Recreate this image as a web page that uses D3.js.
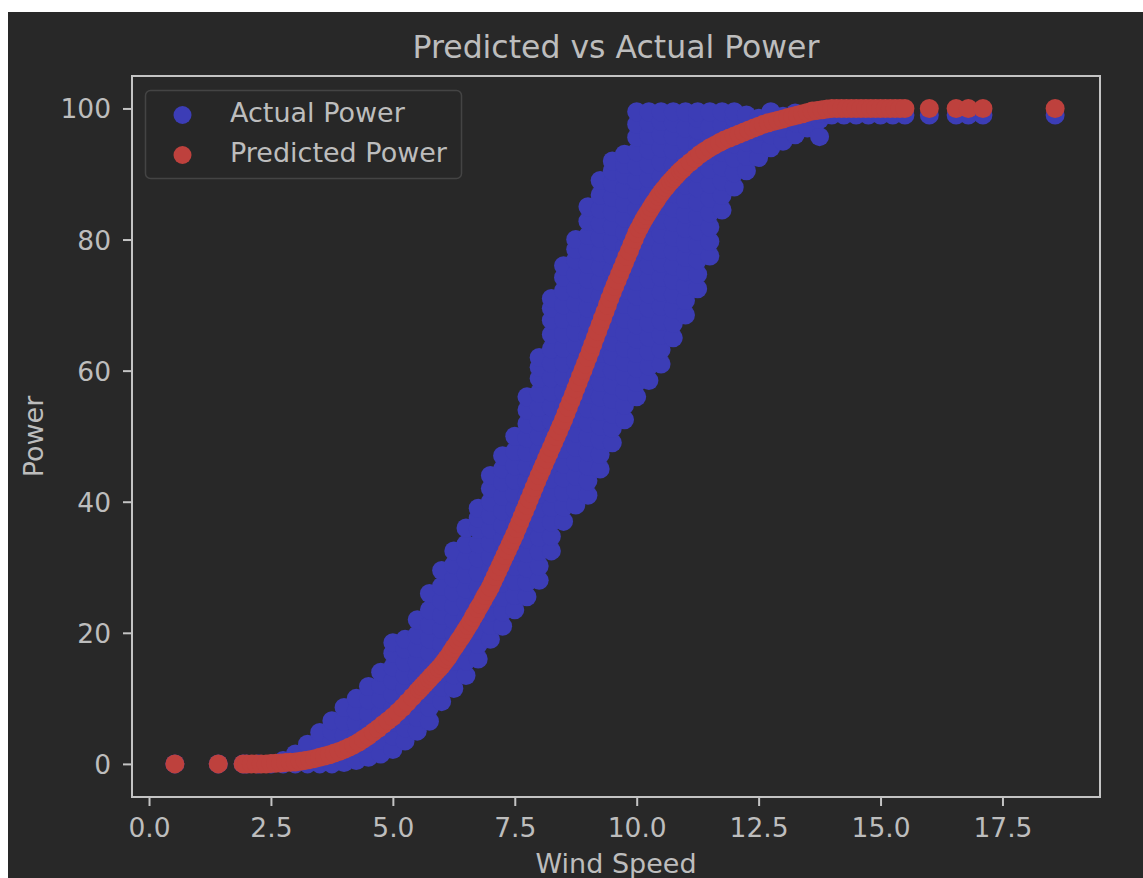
<!DOCTYPE html>
<html>
<head>
<meta charset="utf-8">
<script src="https://cdn.jsdelivr.net/npm/d3@7"></script>
<style>
  html, body { margin: 0; padding: 0; background: #ffffff; }
  svg { display: block; }
  text { font-family: "DejaVu Sans", sans-serif; }
</style>
</head>
<body>
<svg id="chart" width="1143" height="878"></svg>
<script>
// ---------------- data ----------------
const title = "Predicted vs Actual Power";
const xLabel = "Wind Speed";
const yLabel = "Power";
const seriesNames = ["Actual Power", "Predicted Power"];
const xTicks = [0, 2.5, 5, 7.5, 10, 12.5, 15, 17.5];
const yTicks = [0, 20, 40, 60, 80, 100];

// Actual power: for each wind speed, the observed power values
const actualColumns = [
  [0.53, [0]], [1.42, [0]], [1.93, [0]],
  [2.0, [0]], [2.25, [0]], [2.5, [0]], [2.75, [0, 0.5]],
  [3.0, [0, 0.8, 1.5]],
  [3.25, [0, 1.5, 3]],
  [3.5, [0, 1.6, 3.2, 4.8]],
  [3.75, [0, 1.7, 3.4, 5, 6.6]],
  [4.0, [0.2, 2.3, 4.4, 6.5, 8.6]],
  [4.25, [0.5, 2.4, 4.3, 6.2, 8.1, 10]],
  [4.5, [1, 3.2, 5.4, 7.6, 9.8, 11.8]],
  [4.75, [1.5, 3.6, 5.7, 7.8, 9.9, 12, 14]],
  [5.0, [2.2, 4.3, 6.4, 8.5, 10.6, 12.7, 14.8, 16.9, 18.5]],
  [5.25, [3.5, 5.5, 7.5, 9.5, 11.5, 13.5, 15.5, 17.5, 19]],
  [5.5, [5, 7.1, 9.2, 11.3, 13.4, 15.5, 17.6, 19.7, 22]],
  [5.75, [6.5, 8.6, 10.7, 12.8, 14.9, 17, 19.1, 21.2, 23.5, 26]],
  [6.0, [9.5, 11.7, 13.9, 16.1, 18.3, 20.5, 22.7, 24.9, 27.1, 29.5]],
  [6.25, [11.5, 13.6, 15.7, 17.8, 19.9, 22, 24.1, 26.2, 28.3, 30.4, 32.5]],
  [6.5, [13.5, 15.7, 17.9, 20.1, 22.3, 24.5, 26.7, 28.9, 31.1, 33.5, 36]],
  [6.75, [16, 18.2, 20.4, 22.6, 24.8, 27, 29.2, 31.4, 33.6, 35.8, 37.5, 39]],
  [7.0, [19, 21.1, 23.2, 25.3, 27.4, 29.5, 31.6, 33.7, 35.8, 37.9, 40, 42, 44]],
  [7.25, [21, 23.2, 25.4, 27.6, 29.8, 32, 34.2, 36.4, 38.6, 40.8, 43, 45, 47]],
  [7.5, [23.5, 25.7, 27.9, 30.1, 32.3, 34.5, 36.7, 38.9, 41.1, 43.3, 45.5, 47.7, 50]],
  [7.75, [25.5, 27.7, 29.9, 32.1, 34.3, 36.5, 38.7, 40.9, 43.1, 45.3, 47.5, 49.7, 51.9, 54, 56]],
  [8.0, [28, 30.2, 32.4, 34.6, 36.8, 39, 41.2, 43.4, 45.6, 47.8, 50, 52.2, 54.4, 56.6, 58.8, 60.5, 62]],
  [8.25, [32.5, 34.7, 36.9, 39.1, 41.3, 43.5, 45.7, 47.9, 50.1, 52.3, 54.5, 56.7, 58.9, 61.1, 63.3, 65.5, 67.7, 69.5, 71]],
  [8.5, [37, 39.2, 41.4, 43.6, 45.8, 48, 50.2, 52.4, 54.6, 56.8, 59, 61.2, 63.4, 65.6, 67.8, 70, 72.2, 74.2, 76]],
  [8.75, [39.5, 41.7, 43.9, 46.1, 48.3, 50.5, 52.7, 54.9, 57.1, 59.3, 61.5, 63.7, 65.9, 68.1, 70.3, 72.5, 74.7, 76.9, 78.5, 80]],
  [9.0, [41, 43.2, 45.4, 47.6, 49.8, 52, 54.2, 56.4, 58.6, 60.8, 63, 65.2, 67.4, 69.6, 71.8, 74, 76.2, 78.4, 80.6, 82.8, 85]],
  [9.25, [45, 47.2, 49.4, 51.6, 53.8, 56, 58.2, 60.4, 62.6, 64.8, 67, 69.2, 71.4, 73.6, 75.8, 78, 80.2, 82.4, 84.6, 86.8, 89]],
  [9.5, [49, 51.2, 53.4, 55.6, 57.8, 60, 62.2, 64.4, 66.6, 68.8, 71, 73.2, 75.4, 77.6, 79.8, 82, 84.2, 86.4, 88.6, 90.5, 92]],
  [9.75, [52.5, 54.7, 56.9, 59.1, 61.3, 63.5, 65.7, 67.9, 70.1, 72.3, 74.5, 76.7, 78.9, 81.1, 83.3, 85.5, 87.7, 89.9, 91.5, 93]],
  [10.0, [56, 58.2, 60.4, 62.6, 64.8, 67, 69.2, 71.4, 73.6, 75.8, 78, 80.2, 82.4, 84.6, 86.8, 89, 91.2, 93.4, 95.6, 97.6, 99.5]],
  [10.25, [58.5, 60.7, 62.9, 65.1, 67.3, 69.5, 71.7, 73.9, 76.1, 78.3, 80.5, 82.7, 84.9, 87.1, 89.3, 91.5, 93.7, 95.9, 97.8, 99.5]],
  [10.5, [61, 63.2, 65.4, 67.6, 69.8, 72, 74.2, 76.4, 78.6, 80.8, 83, 85.2, 87.4, 89.6, 91.8, 94, 96, 98, 99.5]],
  [10.75, [65, 67.2, 69.4, 71.6, 73.8, 76, 78.2, 80.4, 82.6, 84.8, 87, 89.2, 91.4, 93.6, 95.8, 97.8, 99.5]],
  [11.0, [68.5, 70.7, 72.9, 75.1, 77.3, 79.5, 81.7, 83.9, 86.1, 88.3, 90.5, 92.7, 94.9, 97, 99.5]],
  [11.25, [72.5, 74.7, 76.9, 79.1, 81.3, 83.5, 85.7, 87.9, 90.1, 92.3, 94.5, 96.7, 98.5, 99.5]],
  [11.5, [77.5, 79.7, 81.9, 84.1, 86.3, 88.5, 90.7, 92.9, 95.1, 97.2, 99.5]],
  [11.75, [84.5, 86.7, 88.9, 91.1, 93.3, 95.5, 97.5, 99.5]],
  [12.0, [88, 90.2, 92.4, 94.6, 96.8, 98.5, 99.5]],
  [12.25, [90.5, 92.7, 94.9, 97, 99]],
  [12.5, [92.5, 94.5, 96.5, 98.5]],
  [12.75, [94, 96, 98, 99.5]],
  [13.0, [95, 97, 98.8]],
  [13.25, [96, 97.8, 99.3]],
  [13.5, [97, 98.8]],
  [13.75, [95.7, 98.3, 99.3]],
  [14.0, [99, 99.3]], [14.25, [99]], [14.5, [99]], [14.75, [99]], [15.0, [99]],
  [15.25, [99]], [15.5, [99]], [16.0, [99]], [16.55, [99]], [16.8, [99]],
  [17.1, [99]], [18.58, [99]]
];

// Predicted power: [wind speed, predicted power]
const predictedPoints = [
  [0.53, 0], [1.42, 0], [1.93, 0], [2.0, 0], [2.1, 0], [2.2, 0], [2.3, 0], [2.4, 0],
  [2.5, 0.05], [2.6, 0.1], [2.7, 0.15], [2.8, 0.2], [2.9, 0.25], [3.0, 0.3],
  [3.1, 0.4], [3.2, 0.5], [3.3, 0.65], [3.4, 0.8], [3.5, 1.0], [3.6, 1.2],
  [3.7, 1.4], [3.8, 1.65], [3.9, 1.9], [4.0, 2.2], [4.1, 2.55], [4.2, 2.9],
  [4.3, 3.3], [4.4, 3.8], [4.5, 4.3], [4.6, 4.85], [4.7, 5.4], [4.8, 6.0],
  [4.9, 6.6], [5.0, 7.2], [5.1, 7.9], [5.2, 8.6], [5.3, 9.4], [5.4, 10.2],
  [5.5, 11.0], [5.55, 11.4], [5.6, 11.8], [5.65, 12.2], [5.7, 12.6], [5.75, 13.0],
  [5.8, 13.4], [5.85, 13.8], [5.9, 14.2], [5.95, 14.6], [6.0, 15.0], [6.05, 15.5],
  [6.1, 16.0], [6.15, 16.5], [6.2, 17.1], [6.25, 17.7], [6.3, 18.2], [6.35, 18.8],
  [6.4, 19.3], [6.45, 19.9], [6.5, 20.5], [6.55, 21.1], [6.6, 21.7], [6.65, 22.4],
  [6.7, 23.0], [6.75, 23.7], [6.8, 24.3], [6.85, 25.0], [6.9, 25.7], [6.95, 26.3],
  [7.0, 27.0], [7.05, 27.8], [7.1, 28.6], [7.15, 29.4], [7.2, 30.2], [7.25, 31.0],
  [7.3, 31.8], [7.35, 32.6], [7.4, 33.4], [7.45, 34.2], [7.5, 35.0], [7.55, 35.9],
  [7.6, 36.8], [7.65, 37.7], [7.7, 38.6], [7.75, 39.5], [7.8, 40.4], [7.85, 41.3],
  [7.9, 42.2], [7.95, 43.1], [8.0, 44.0], [8.05, 44.85], [8.1, 45.7], [8.15, 46.55],
  [8.2, 47.4], [8.25, 48.25], [8.3, 49.1], [8.35, 49.95], [8.4, 50.8], [8.45, 51.65],
  [8.5, 52.5], [8.55, 53.45], [8.6, 54.4], [8.65, 55.35], [8.7, 56.3], [8.75, 57.25],
  [8.8, 58.2], [8.85, 59.15], [8.9, 60.1], [8.95, 61.05], [9.0, 62.0], [9.05, 63.0],
  [9.1, 64.0], [9.15, 65.0], [9.2, 66.0], [9.25, 67.0], [9.3, 68.0], [9.35, 69.0],
  [9.4, 70.0], [9.45, 71.0], [9.5, 72.0], [9.55, 72.9], [9.6, 73.8], [9.65, 74.7],
  [9.7, 75.6], [9.75, 76.5], [9.8, 77.4], [9.85, 78.3], [9.9, 79.2], [9.95, 80.1],
  [10.0, 81.0], [10.05, 81.7], [10.1, 82.4], [10.15, 83.1], [10.2, 83.7], [10.25, 84.3],
  [10.3, 84.9], [10.35, 85.5], [10.4, 86.0], [10.45, 86.6], [10.5, 87.1], [10.55, 87.6],
  [10.6, 88.0], [10.65, 88.5], [10.7, 88.9], [10.75, 89.3], [10.8, 89.7], [10.85, 90.1],
  [10.9, 90.5], [10.95, 90.8], [11.0, 91.2], [11.1, 91.8], [11.2, 92.4], [11.3, 93.0],
  [11.4, 93.5], [11.5, 94.0], [11.6, 94.4], [11.7, 94.8], [11.8, 95.2], [11.9, 95.5],
  [12.0, 95.8], [12.1, 96.1], [12.2, 96.4], [12.3, 96.7], [12.4, 97.0], [12.5, 97.3],
  [12.6, 97.6], [12.7, 97.8], [12.8, 98.0], [12.9, 98.2], [13.0, 98.4], [13.1, 98.6],
  [13.2, 98.8], [13.3, 99.0], [13.4, 99.2], [13.5, 99.4], [13.6, 99.6], [13.7, 99.7],
  [13.8, 99.8], [13.9, 99.9], [14.0, 100], [14.1, 100], [14.2, 100], [14.3, 100],
  [14.4, 100], [14.5, 100], [14.6, 100], [14.7, 100], [14.8, 100], [14.9, 100],
  [15.0, 100], [15.1, 100], [15.2, 100], [15.3, 100], [15.4, 100], [15.5, 100],
  [16.0, 100], [16.55, 100], [16.8, 100], [17.1, 100], [18.58, 100]
];

// ---------------- drawing ----------------
const W = 1143, H = 878;
const bg = "#282828", textColor = "#bdbdbd", spineColor = "#c4c4c4";
const blue = "#3c3db6", red = "#be413d";
const plot = { left: 132, right: 1100, top: 76, bottom: 797 };

const svg = d3.select("#chart");
svg.append("rect").attr("x", 8).attr("y", 12).attr("width", W - 8).attr("height", H - 12).attr("fill", bg);

const x = d3.scaleLinear().domain([-0.349, 19.5]).range([plot.left, plot.right]);
const y = d3.scaleLinear().domain([-5.05, 104.95]).range([plot.bottom, plot.top]);

const actual = actualColumns.flatMap(([ws, ps]) => ps.map(p => ({ ws, p })));
const predicted = predictedPoints.map(([ws, p]) => ({ ws, p }));
const r = 9.5;

svg.append("g").selectAll("circle").data(actual).join("circle")
  .attr("cx", d => x(d.ws)).attr("cy", d => y(d.p)).attr("r", r).attr("fill", blue);
svg.append("g").selectAll("circle").data(predicted).join("circle")
  .attr("cx", d => x(d.ws)).attr("cy", d => y(d.p)).attr("r", r).attr("fill", red);

// axes
const xAxis = svg.append("g").attr("transform", `translate(0,${plot.bottom})`)
  .call(d3.axisBottom(x).tickValues(xTicks).tickFormat(d3.format(".1f")).tickSize(9).tickPadding(6).tickSizeOuter(0));
const yAxis = svg.append("g").attr("transform", `translate(${plot.left},0)`)
  .call(d3.axisLeft(y).tickValues(yTicks).tickFormat(d3.format("d")).tickSize(9).tickPadding(12).tickSizeOuter(0));
[xAxis, yAxis].forEach(g => {
  g.select(".domain").remove();
  g.selectAll(".tick line").attr("stroke", spineColor).attr("stroke-width", 2);
  g.selectAll(".tick text").attr("fill", textColor).style("font-size", "26.5px").style("font-family", "DejaVu Sans");
});
xAxis.selectAll(".tick text").attr("dy", "0.95em");
yAxis.selectAll(".tick text").attr("dy", "0.36em");

// spines
svg.append("rect").attr("x", plot.left).attr("y", plot.top)
  .attr("width", plot.right - plot.left).attr("height", plot.bottom - plot.top)
  .attr("fill", "none").attr("stroke", spineColor).attr("stroke-width", 2);

// title and labels
svg.append("text").attr("x", (plot.left + plot.right) / 2).attr("y", 58)
  .attr("text-anchor", "middle").attr("fill", textColor).style("font-size", "31.5px").text(title);
svg.append("text").attr("x", (plot.left + plot.right) / 2).attr("y", 873)
  .attr("text-anchor", "middle").attr("fill", textColor).style("font-size", "27px").text(xLabel);
svg.append("text").attr("transform", `translate(43,${(plot.top + plot.bottom) / 2}) rotate(-90)`)
  .attr("text-anchor", "middle").attr("fill", textColor).style("font-size", "27px").text(yLabel);

// legend
const lg = svg.append("g");
lg.append("rect").attr("x", 145.5).attr("y", 90.5).attr("width", 316).attr("height", 88).attr("rx", 5)
  .attr("fill", "#272727").attr("stroke", "#444444").attr("stroke-width", 1.5);
[blue, red].forEach((c, i) => {
  lg.append("circle").attr("cx", 182.5).attr("cy", 115 + i * 40).attr("r", 9).attr("fill", c);
  lg.append("text").attr("x", 230).attr("y", 122 + i * 40).attr("fill", textColor)
    .style("font-size", "27px").text(seriesNames[i]);
});
</script>
</body>
</html>
